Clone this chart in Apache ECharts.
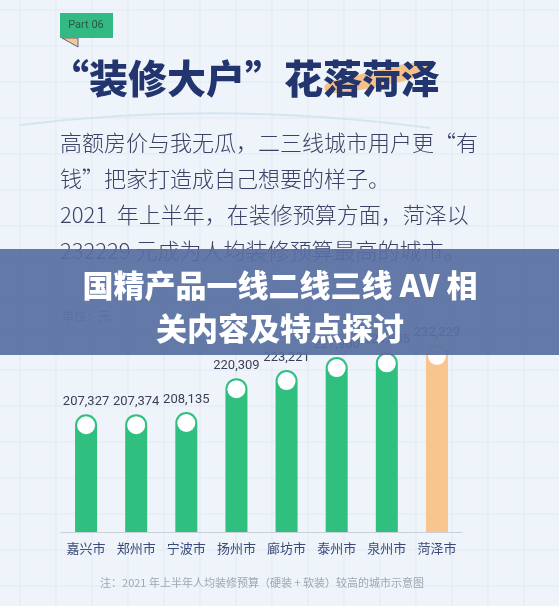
<!DOCTYPE html>
<html><head><meta charset="utf-8">
<script src="https://cdn.jsdelivr.net/npm/echarts@6/dist/echarts.min.js"></script>
<style>html,body{margin:0;padding:0;background:#eef4fa}#c{width:559px;height:606px}</style>
</head><body><div id="c"></div>
<script>
const categories = ['嘉兴市','郑州市','宁波市','扬州市','廊坊市','泰州市','泉州市','菏泽市'];
const values = [207327, 207374, 208135, 220309, 223221, 227900, 229605, 232229];
const barColors = ['#2fbf7f','#2fbf7f','#2fbf7f','#2fbf7f','#2fbf7f','#2fbf7f','#2fbf7f','#f8c58e'];
const paragraph = ['高额房价与我无瓜，二三线城市用户更“有','钱”把家打造成自己想要的样子。','2021  年上半年，在装修预算方面，菏泽以','232229 元成为人均装修预算最高的城市。'];
const chart = echarts.init(document.getElementById('c'));
const g = [];
for (let x = 20; x < 559; x += 36) g.push({type:'line',z:-10,shape:{x1:x,y1:0,x2:x,y2:606},style:{stroke:'#e1e9f3',lineWidth:1}});
for (let y = 10; y < 606; y += 36) g.push({type:'line',z:-10,shape:{x1:0,y1:y,x2:559,y2:y},style:{stroke:'#e1e9f3',lineWidth:1}});
g.push({type:'polygon',shape:{points:[[62,38],[78,38],[78,47]]},style:{fill:'#f2c894',stroke:'#3a4a70',lineWidth:0.8}});
g.push({type:'rect',shape:{x:60,y:13,width:53,height:25},style:{fill:'#33b983'}});
g.push({type:'text',x:86,y:25,style:{text:'Part 06',fill:'#2a5a44',font:'11px Roboto',align:'center',verticalAlign:'middle'}});
g.push({type:'polygon',shape:{smooth:0.4,points:[[326,84],[370,72],[420,62],[430,66],[425,74],[380,86],[328,93]]},style:{fill:'#f5c08a'}});
g.push({type:'bezierCurve',shape:{x1:20,y1:125,cpx1:220,cpy1:100,x2:430,y2:128},style:{fill:null,stroke:'#d3e6f0',lineWidth:2}});
g.push({type:'text',x:50,y:78,style:{text:'“装修大户”花落菏泽',fill:'#23356e',font:'900 39px "Noto Sans CJK SC"',verticalAlign:'middle'}});
paragraph.forEach((t,i)=>g.push({type:'text',x:60,y:143+i*36,style:{text:t,fill:'#3b4266',font:'300 22px "Noto Sans CJK SC"',verticalAlign:'middle'}}));
g.push({type:'text',x:62,y:316,style:{text:'单位：元',fill:'#7b8296',font:'12px "Noto Sans CJK SC"',verticalAlign:'middle'}});
g.push({type:'text',x:262,y:583,style:{text:'注：2021 年上半年人均装修预算（硬装 + 软装）较高的城市示意图',fill:'#a0a6b2',font:'11px "Noto Sans CJK SC"',align:'center',verticalAlign:'middle'}});
g.push({type:'rect',z:100,shape:{x:0,y:249,width:559,height:106},style:{fill:'rgba(88,111,160,0.93)'}});
g.push({type:'text',z:101,x:280,y:285,style:{text:'国精产品一线二线三线 AV 相',fill:'#fff',font:'900 31px "Noto Sans CJK SC"',align:'center',verticalAlign:'middle'}});
g.push({type:'text',z:101,x:280,y:328,style:{text:'关内容及特点探讨',fill:'#fff',font:'900 31px "Noto Sans CJK SC"',align:'center',verticalAlign:'middle'}});
chart.setOption({
  backgroundColor:'#eef4fa',
  animation:false,
  graphic:g,
  grid:{left:61,right:97,top:300,bottom:74},
  xAxis:{type:'category',data:categories,axisTick:{show:false},axisLine:{lineStyle:{color:'#c9d0da'}},
    axisLabel:{interval:0,color:'#3b4a7a',fontSize:13,margin:10,fontFamily:'Noto Sans CJK SC'}},
  yAxis:{type:'value',min:165000,max:248400,show:false,splitLine:{show:false}},
  series:[
    {type:'bar',data:values.map((v,i)=>({value:v,itemStyle:{color:barColors[i]}})),barWidth:22,
     itemStyle:{borderRadius:[11,11,0,0]},
     label:{show:true,position:'top',distance:6,color:'#3a3f55',fontSize:13,fontFamily:'Roboto',
       formatter:p=>p.value.toLocaleString('en-US')}},
    {type:'scatter',data:values,symbol:'circle',symbolSize:18,symbolOffset:[0,11],
     itemStyle:{color:'#fff',opacity:1},z:5}
  ]
});
</script></body></html>
